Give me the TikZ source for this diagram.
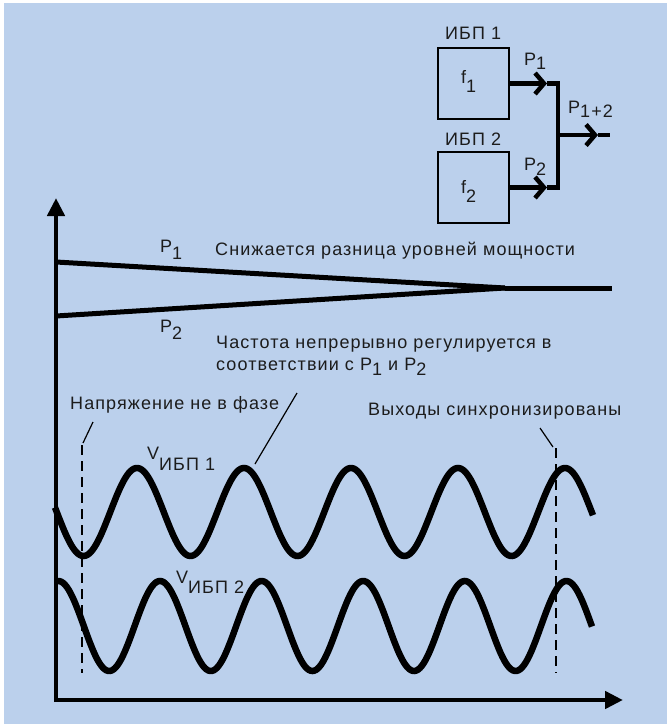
\documentclass[tikz,border=0pt]{standalone}
\usepackage{fontspec}
\setmainfont{Liberation Sans}[LetterSpace=6]
\usetikzlibrary{arrows.meta}
\definecolor{bg}{RGB}{187,208,236}
\definecolor{ink}{RGB}{28,28,28}
\newcommand\lowr[2][0.45em]{\raisebox{-#1}{#2}}
\begin{document}
\begin{tikzpicture}[x=1pt,y=-1pt,
  txt/.style={font=\fontsize{18}{22}\selectfont, text=ink, inner sep=0pt},
  box/.style={draw, line width=2.4pt, minimum width=71pt, minimum height=71pt, inner sep=0pt},
  conn/.style={line width=4.5pt},
  barb/.style={line width=4.5pt, -{Straight Barb[length=9pt,width=21pt]}},
  axis/.style={line width=4.5pt, -{Triangle[length=18pt,width=17pt]}},
  pline/.style={line width=5pt},
  wave/.style={line width=6.5pt},
  guide/.style={line width=2.8pt, dash pattern=on 10pt off 6pt},
  lead/.style={line width=1.2pt}]
\fill[white] (0,0) rectangle (667,724);
\fill[bg] (4,3) rectangle (667,724);
\useasboundingbox (0,0) rectangle (667,724);

% block diagram
\node[box] (b1) at (473.5,83.5) {};
\node[box] (b2) at (473.5,187.5) {};
\node[txt, anchor=base west] (l1) at (445,39) {ИБП 1};
\node[txt, anchor=base west] (l2) at (445,145) {ИБП 2};
\node[txt, anchor=base west] (f1) at (461,83) {f\lowr[0.5em]{1}};
\node[txt, anchor=base west] (f2) at (461,193) {f\lowr[0.5em]{2}};
\coordinate (a1) at (547,83.5);
\coordinate (a2) at (547,187.5);
\coordinate (j1) at (558,83.5);
\coordinate (j2) at (558,187.5);
\coordinate (jm) at (558,135);
\coordinate (ao) at (598,135);
\coordinate (eo) at (610,135);
\draw[barb] (b1.east) -- (a1);
\draw[conn] (a1) -- (j1);
\draw[barb] (b2.east) -- (a2);
\draw[conn] (a2) -- (j2);
\draw[conn, line cap=rect] (j1) -- (j2);
\draw[barb] (jm) -- (ao);
\draw[conn] (ao) -- (eo);
\node[txt, anchor=base west] (p1b) at (524,65) {P\lowr[0.25em]{1}};
\node[txt, anchor=base west] (p2b) at (524,170) {P\lowr[0.3em]{2}};
\node[txt, anchor=base west] (p12) at (568,113) {P\lowr[0.25em]{1+2}};

% axes
\coordinate (ybot) at (56,702);
\coordinate (ytop) at (56,198);
\coordinate (xl) at (54,700);
\coordinate (xr) at (623,700);
\draw[axis] (ybot) -- (ytop);
\draw[axis] (xl) -- (xr);

% power lines
\coordinate (p1s) at (56,262);
\coordinate (p2s) at (56,316);
\coordinate (pm) at (505,288);
\coordinate (pe) at (612,288);
\draw[pline] (p1s) -- (pm);
\draw[pline] (p2s) -- (pm);
\draw[pline] (pm) -- (pe);
\node[txt, anchor=base west] (lp1) at (160,252) {P\lowr[0.42em]{1}};
\node[txt, anchor=base west] (lp2) at (160,332) {P\lowr[0.42em]{2}};
\node[txt, anchor=base west] (t1) at (215,255) {Снижается разница уровней мощности};
\node[txt, anchor=base west] (t2) at (216,348) {Частота непрерывно регулируется в};
\node[txt, anchor=base west] (t3) at (216,370) {соответствии с P\lowr[0.3em]{1} и P\lowr[0.3em]{2}};

% waves
\draw[wave] plot[domain=55:593, samples=300] (\x, {512-44*cos((\x-137)/107*360)});
\draw[wave] plot[domain=56:592, samples=300] (\x, {626-45*cos((\x-160)/101.6*360)});
\node[txt, anchor=base west] (v1) at (147,459) {V\lowr[0.62em]{ИБП 1}};
\node[txt, anchor=base west] (v2) at (176,583) {V\lowr[0.56em]{ИБП 2}};

% guides
\node[txt, anchor=base west] (t4) at (70,409) {Напряжение не в фазе};
\node[txt, anchor=base west] (t5) at (368,415) {Выходы синхронизированы};
\coordinate (g1t) at (82,445);
\coordinate (g1b) at (82,673);
\coordinate (g2t) at (556,448);
\coordinate (g2b) at (556,673);
\draw[guide] (g1t) -- (g1b);
\draw[guide] (g2t) -- (g2b);
\coordinate (ld1a) at (93,422);
\coordinate (ld1b) at (83,443);
\coordinate (ld2a) at (297,393);
\coordinate (ld2b) at (255,464);
\coordinate (ld3a) at (540,428);
\coordinate (ld3b) at (553,447);
\draw[lead] (ld1a) -- (ld1b);
\draw[lead] (ld2a) -- (ld2b);
\draw[lead] (ld3a) -- (ld3b);
\end{tikzpicture}
\end{document}
